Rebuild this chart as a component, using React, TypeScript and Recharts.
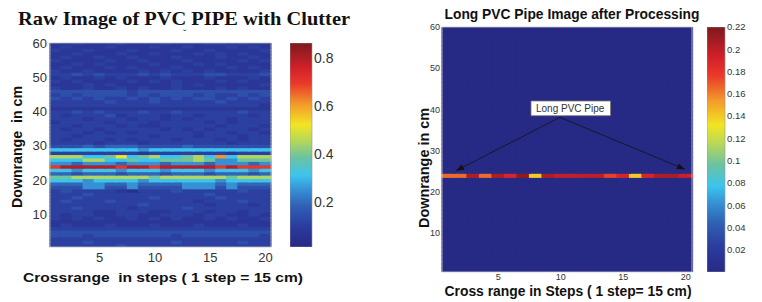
import React from "react";
import { BarChart, Bar, Cell, XAxis, YAxis, ReferenceArea, ReferenceLine, ComposedChart } from "recharts";

const SANS = "'Liberation Sans', Arial, Helvetica, sans-serif";
const SERIF = "'Liberation Serif', 'Times New Roman', serif";

// crossrange steps (image columns)
const steps = [1, 2, 3, 4, 5, 6, 7, 8, 9, 10, 11, 12, 13, 14, 15, 16, 17, 18, 19, 20];
// downrange rows in cm, 1..60
const rows = Array.from({ length: 60 }, (_, i) => i + 1);

// raw image, one string per row from 60 cm (top) down to 1 cm, one char per step
const rawImage = [
  "11211121112111221211",
  "12111211121121112121",
  "21121112111211211112",
  "11211121121112121211",
  "12112112111211121121",
  "21111211211121111212",
  "11212111121112121111",
  "12111212111211112121",
  "21121111212121211112",
  "22323222323222332223",
  "12112121112111211121",
  "21211112121211121211",
  "11121211111212111112",
  "21121121211211121211",
  "33333332333333333333",
  "23233332323332322323",
  "32323223232323323232",
  "22222322232222232222",
  "22222222222222222221",
  "11111111111111111111",
  "22323222322322222322",
  "21222312221221222212",
  "22212221221212221222",
  "12222122212222121222",
  "22122212112222212221",
  "21221222221212122212",
  "22212121222221221221",
  "22122222212221222122",
  "21222121222122212122",
  "22221222122222221222",
  "33343444333343333333",
  "66666666566666666666",
  "22222222122222221222",
  "888667967866786a6888",
  "66688667667778755777",
  "55455545554555455545",
  "bcccccbccbcccccbcbbb",
  "66566656665666566656",
  "44344434443444344434",
  "77888888878888887888",
  "66656666566666656666",
  "44455445444455545444",
  "33355335333355535333",
  "23222210222322222322",
  "22232222222222322222",
  "22322222232222232222",
  "23222322222221222322",
  "22222222322222122212",
  "22322221222232222222",
  "22221122211222122122",
  "21221122112221221121",
  "21212112121211212112",
  "11111111111111111111",
  "12111211121112111211",
  "22222222222222222222",
  "33333333333333333333",
  "33323333333233333332",
  "22222222222222222222",
  "22232222222322222322",
  "22222232222222222222",
];
// intensity read for each char
const rawLevels: Record<string, number> = {
  "0": 0.04, "1": 0.075, "2": 0.11, "3": 0.145, "4": 0.19, "5": 0.25, "6": 0.31,
  "7": 0.39, "8": 0.45, "9": 0.525, a: 0.61, b: 0.7, c: 0.79,
};

// processed image: zero everywhere except the pipe row
const pipeRow = 24;
const pipeValues = [
  0.165, 0.165, 0.205, 0.165, 0.205, 0.19, 0.215, 0.14, 0.205, 0.198,
  0.198, 0.2, 0.2, 0.175, 0.19, 0.14, 0.19, 0.205, 0.205, 0.195,
];

const stepTicks = [5, 10, 15, 20];
const rangeTicks = [10, 20, 30, 40, 50, 60];
const rawScale = [0.0125, 0.8625];
const rawScaleTicks = [0.2, 0.4, 0.6, 0.8];
const procScale = [0, 0.22];
const procScaleTicks = [0.02, 0.04, 0.06, 0.08, 0.1, 0.12, 0.14, 0.16, 0.18, 0.2, 0.22];

// annotation on the processed image (data coords)
const labelBox = { x1: 7.62, x2: 13.98, y1: 38.46, y2: 42.03 };
const arrowFrom = { x: 9.94, y: 38.07 };
const arrowTips = [
  { x: 1.62, y: 25.1 },
  { x: 19.94, y: 25.44 },
];

const jetStops: [number, string][] = [
  [0.0, "#272a85"],
  [0.1, "#2b3b9e"],
  [0.2, "#3060b5"],
  [0.28, "#3590d4"],
  [0.35, "#3cc4ee"],
  [0.44, "#6cc3a0"],
  [0.52, "#b5d75a"],
  [0.6, "#f1e523"],
  [0.7, "#f39a2a"],
  [0.8, "#ea3a2a"],
  [0.88, "#d0202a"],
  [1.0, "#7c1a1e"],
];

const hex = (c: string) => [1, 3, 5].map((i) => parseInt(c.slice(i, i + 2), 16));

function jet(t: number) {
  const x = Math.max(0, Math.min(1, t));
  for (let i = 1; i < jetStops.length; i++) {
    const [p0, c0] = jetStops[i - 1];
    const [p1, c1] = jetStops[i];
    if (x <= p1) {
      const k = (x - p0) / (p1 - p0);
      const a = hex(c0);
      const b = hex(c1);
      const m = a.map((v, j) => Math.round(v + (b[j] - v) * k));
      return `rgb(${m[0]},${m[1]},${m[2]})`;
    }
  }
  return jetStops[jetStops.length - 1][1];
}

const rawValue = (step: number, row: number) => rawLevels[rawImage[60 - row]?.[step - 1]] ?? 0;
const procValue = (step: number, row: number) => (row === pipeRow ? pipeValues[step - 1] : 0);

// one stacked column per step, one 1-cm segment per row (base puts row k at k-0.5..k+0.5)
const stackData = steps.map((s) => {
  const d: Record<string, number> = { step: s, base: 0.5 };
  rows.forEach((r) => (d[`r${r}`] = 1));
  return d;
});

// cell rect widened a hair so neighbouring cells don't leave seams
function CellRect(p: any) {
  if (!p.height) return <g />;
  return <rect x={p.x - 0.6} y={p.y - 0.6} width={p.width + 1.2} height={p.height + 1.2} fill={p.fill} />;
}

function Arrow(p: any) {
  const { x1, y1, x2, y2 } = p;
  const ang = Math.atan2(y2 - y1, x2 - x1);
  const L = 8;
  const W = 3;
  const bx = x2 - L * Math.cos(ang);
  const by = y2 - L * Math.sin(ang);
  const pts = `${x2},${y2} ${bx + W * Math.sin(ang)},${by - W * Math.cos(ang)} ${bx - W * Math.sin(ang)},${by + W * Math.cos(ang)}`;
  return (
    <g>
      <line x1={x1} y1={y1} x2={x2} y2={y2} stroke="#111" strokeWidth={0.8} />
      <polygon points={pts} fill="#111" />
    </g>
  );
}

function Heatmap(props: {
  left: number;
  width: number;
  height: number;
  margin: { top: number; right: number; bottom: number; left: number };
  yAxisWidth: number;
  xAxisHeight: number;
  fontSize: number;
  tickMarginX: number;
  tickMarginY: number;
  valueAt: (s: number, r: number) => number;
  lo: number;
  hi: number;
}) {
  const tick = { fontSize: props.fontSize, fill: "#333", fontFamily: SANS };
  return (
    <div style={{ position: "absolute", left: props.left, top: 0 }}>
      <BarChart width={props.width} height={props.height} data={stackData} margin={props.margin} barCategoryGap={0}>
        <XAxis
          dataKey="step"
          type="category"
          interval={0}
          height={props.xAxisHeight}
          tickFormatter={(v) => (stepTicks.includes(Number(v)) ? String(v) : "")}
          tickLine={false}
          axisLine={false}
          tickSize={0}
          tickMargin={props.tickMarginX}
          tick={tick}
        />
        <YAxis
          type="number"
          domain={[0.5, 60]}
          ticks={rangeTicks}
          allowDataOverflow
          width={props.yAxisWidth}
          tickLine={false}
          axisLine={false}
          tickSize={0}
          tickMargin={props.tickMarginY}
          tick={tick}
        />
        <Bar dataKey="base" stackId="s" fill="transparent" isAnimationActive={false} />
        {rows.map((r) => (
          <Bar key={r} dataKey={`r${r}`} stackId="s" isAnimationActive={false} shape={CellRect}>
            {steps.map((s) => (
              <Cell key={s} fill={jet((props.valueAt(s, r) - props.lo) / (props.hi - props.lo))} />
            ))}
          </Bar>
        ))}
      </BarChart>
    </div>
  );
}

function ColorBar(props: {
  id: string;
  left: number;
  width: number;
  height: number;
  top: number;
  bottom: number;
  axisWidth: number;
  lo: number;
  hi: number;
  ticks: number[];
  fontSize: number;
}) {
  return (
    <div style={{ position: "absolute", left: props.left, top: 0 }}>
      <BarChart
        width={props.width}
        height={props.height}
        data={[{ name: "cb", span: [props.lo, props.hi] }]}
        margin={{ top: props.top, bottom: props.bottom, left: 0, right: 0 }}
        barCategoryGap={0}
      >
        <defs>
          <linearGradient id={props.id} x1="0" y1="1" x2="0" y2="0">
            {jetStops.map(([p, c]) => (
              <stop key={p} offset={`${p * 100}%`} stopColor={c} />
            ))}
          </linearGradient>
        </defs>
        <XAxis dataKey="name" hide />
        <YAxis
          orientation="right"
          type="number"
          domain={[props.lo, props.hi]}
          ticks={props.ticks}
          allowDataOverflow
          width={props.axisWidth}
          tickLine={false}
          axisLine={false}
          tickSize={0}
          tickMargin={2}
          tickFormatter={(v) => String(+Number(v).toFixed(2))}
          tick={{ fontSize: props.fontSize, fill: "#333", fontFamily: SANS, textAnchor: "start" }}
        />
        <Bar dataKey="span" fill={`url(#${props.id})`} stroke="#999" strokeWidth={0.6} isAnimationActive={false} />
      </BarChart>
    </div>
  );
}

// text box and arrows drawn over the processed image, same plot area
function Annotation() {
  return (
    <div style={{ position: "absolute", left: 400, top: 0, pointerEvents: "none" }}>
      <ComposedChart width={300} height={290} data={[]} margin={{ top: 27, right: 8, bottom: 18, left: 42 }}>
        <XAxis type="number" dataKey="x" domain={[0.5, 20.5]} allowDataOverflow hide />
        <YAxis type="number" domain={[0.5, 60]} allowDataOverflow hide />
        <ReferenceArea
          x1={labelBox.x1}
          x2={labelBox.x2}
          y1={labelBox.y1}
          y2={labelBox.y2}
          fill="#fff"
          fillOpacity={1}
          stroke="#777"
          strokeWidth={0.8}
          ifOverflow="visible"
          label={{ value: "Long PVC Pipe", position: "insideLeft", offset: 5, fontSize: 10, fill: "#333", fontFamily: SANS }}
        />
        {arrowTips.map((t, i) => (
          <ReferenceLine key={i} segment={[arrowFrom, t]} shape={Arrow} ifOverflow="visible" />
        ))}
      </ComposedChart>
    </div>
  );
}

export default function App() {
  return (
    <div style={{ position: "absolute", left: 0, top: 0, width: 762, height: 302, background: "#fff", overflow: "hidden" }}>
      <Heatmap
        left={0}
        width={280}
        height={270}
        margin={{ top: 43, right: 9, bottom: 10, left: 10 }}
        yAxisWidth={40}
        xAxisHeight={13}
        fontSize={13}
        tickMarginX={6}
        tickMarginY={3}
        valueAt={rawValue}
        lo={rawScale[0]}
        hi={rawScale[1]}
      />
      <ColorBar id="gradRaw" left={290} width={60} height={270} top={43} bottom={23} axisWidth={38}
        lo={rawScale[0]} hi={rawScale[1]} ticks={rawScaleTicks} fontSize={14} />

      <Heatmap
        left={400}
        width={300}
        height={290}
        margin={{ top: 27, right: 8, bottom: 2, left: 12 }}
        yAxisWidth={30}
        xAxisHeight={16}
        fontSize={9}
        tickMarginX={2}
        tickMarginY={2}
        valueAt={procValue}
        lo={procScale[0]}
        hi={procScale[1]}
      />
      <Annotation />
      <ColorBar id="gradProc" left={707} width={55} height={290} top={27} bottom={18} axisWidth={37}
        lo={procScale[0]} hi={procScale[1]} ticks={procScaleTicks} fontSize={9.5} />

      <svg width={762} height={302} style={{ position: "absolute", left: 0, top: 0, pointerEvents: "none" }}>
        <rect x={50} y={43} width={221} height={204} fill="none" stroke="#bbb" strokeWidth={0.8} />
        <rect x={442} y={27} width={250} height={245} fill="none" stroke="#ccc" strokeWidth={0.8} />
        <text x={184} y={18} textAnchor="middle" dominantBaseline="central" fontFamily={SERIF} fontWeight="bold"
          fontSize={19} fill="#111" textLength={332} lengthAdjust="spacingAndGlyphs">
          Raw Image of PVC PIPE with Clutter
        </text>
        <text x={185} y={33} textAnchor="middle" dominantBaseline="central" fontFamily={SANS} fontSize={10} fill="#444">˘</text>
        <text x={163} y={277} textAnchor="middle" dominantBaseline="central" fontFamily={SANS} fontWeight="bold"
          fontSize={13} fill="#111" textLength={280} lengthAdjust="spacingAndGlyphs" style={{ whiteSpace: "pre" }}>
          Crossrange  in steps ( 1 step = 15 cm)
        </text>
        <text x={17} y={147} transform="rotate(-90 17 147)" textAnchor="middle" dominantBaseline="central" fontFamily={SANS}
          fontWeight="bold" fontSize={14} fill="#111" textLength={122} lengthAdjust="spacingAndGlyphs" style={{ whiteSpace: "pre" }}>
          Downrange  in cm
        </text>
        <text x={572} y={14} textAnchor="middle" dominantBaseline="central" fontFamily={SANS} fontWeight="bold"
          fontSize={14} fill="#111" textLength={255} lengthAdjust="spacingAndGlyphs">
          Long PVC Pipe Image after Processing
        </text>
        <text x={568} y={291} textAnchor="middle" dominantBaseline="central" fontFamily={SANS} fontWeight="bold"
          fontSize={14} fill="#111" textLength={247} lengthAdjust="spacingAndGlyphs">
          Cross range in Steps ( 1 step= 15 cm)
        </text>
        <text x={423} y={168} transform="rotate(-90 423 168)" textAnchor="middle" dominantBaseline="central" fontFamily={SANS}
          fontWeight="bold" fontSize={15} fill="#111" textLength={120} lengthAdjust="spacingAndGlyphs">
          Downrange in cm
        </text>
      </svg>
    </div>
  );
}
